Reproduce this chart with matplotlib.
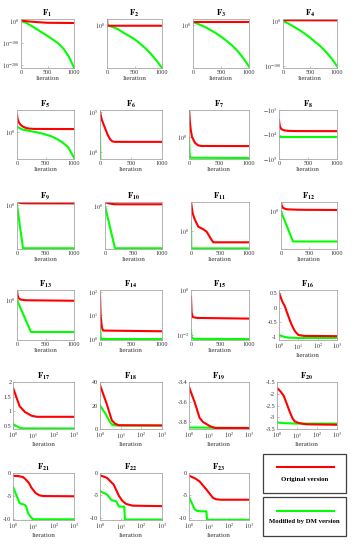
import matplotlib
matplotlib.use('Agg')
import matplotlib.pyplot as plt
from matplotlib.patches import Rectangle
from matplotlib.lines import Line2D

plt.rcParams['font.family'] = ['Liberation Serif', 'DejaVu Serif']
plt.rcParams['mathtext.fontset'] = 'stix'

W, H = 359, 550
RED = '#ff0000'
GREEN = '#00ff00'
FRAME = '#a6a6a6'

# ---------------- data ----------------
# F1..F4: log10 of best fitness vs iteration
F1_it = [0, 100, 200, 300, 400, 500, 600, 700, 800, 900, 1000]
F1_orig_it = [0, 20, 100, 300, 500, 1000]
F1_orig = [1e4, 1e1, 1e-2, 1e-6, 1e-9, 1e-10]
F1_dm = [1e0, 1e-10, 1e-23, 1e-38, 1e-53, 1e-68, 1e-84, 1e-101, 1e-125, 1e-160, 1e-210]

F2_it = [0, 100, 200, 300, 400, 500, 600, 700, 800, 900, 1000]
F2_orig_it = [0, 8, 1000]
F2_orig = [1e25, 1e-2, 1e-2]
F2_dm = [1e0, 1e-6, 1e-13, 1e-25, 1e-35, 1e-46, 1e-60, 1e-76, 1e-94, 1e-116, 1e-140]

F3_it = [0, 100, 200, 300, 400, 500, 600, 700, 800, 900, 1000]
F3_orig_it = [0, 1000]
F3_orig = [1e10, 1e10]
F3_dm = [1e10, 1e2, 1e-6, 1e-17, 1e-28, 1e-41, 1e-56, 1e-72, 1e-92, 1e-116, 1e-145]

F4_it = [0, 100, 200, 300, 400, 500, 600, 700, 800, 900, 1000]
F4_orig_it = [0, 1000]
F4_orig = [10**1.2, 10**1.0]
F4_dm = [1e0, 1e-6, 1e-13, 1e-20, 1e-28, 1e-37, 1e-47, 1e-57, 1e-69, 1e-83, 1e-100]

F5_orig_it = [0, 10, 30, 60, 100, 150, 200, 300, 1000]
F5_orig = [1e4, 1e3, 10**2.3, 10**1.7, 10**1.3, 10**1.0, 10**0.85, 10**0.75, 10**0.72]
F5_dm_it = [0, 50, 100, 200, 300, 400, 500, 600, 700, 800, 900, 1000]
F5_dm = [10**1.3, 10**0.9, 10**0.6, 10**0.35, 10**0.1, 10**-0.15, 10**-0.5, 10**-0.9,
         10**-1.5, 10**-2.3, 10**-3.4, 10**-5.7]

F6_orig_it = [0, 30, 80, 120, 160, 200, 250, 1000]
F6_orig = [1e5, 1e4, 1e3, 10**2.2, 10**1.6, 10**1.3, 10**1.25, 10**1.25]
F6_dm_it = [0, 8]
F6_dm = [10**2.4, 1e-3]

F7_orig_it = [0, 15, 30, 50, 100, 150, 200, 1000]
F7_orig = [1e3, 10**1.5, 10**0.7, 1e0, 10**-0.6, 10**-0.85, 10**-0.92, 10**-0.93]
F7_dm_it = [0, 5, 12, 30, 1000]
F7_dm = [10**-0.05, 10**-0.8, 10**-1.9, 10**-2.12, 10**-2.15]

F8_orig_it = [0, 10, 20, 40, 80, 150, 300, 1000]
F8_orig = [-2600, -4000, -5000, -6000, -6700, -7100, -7250, -7300]
F8_dm_it = [0, 1000]
F8_dm = [-12569.5, -12569.5]

F9_orig_it = [0, 30, 80, 200, 1000]
F9_orig = [1e2, 10**1.6, 10**1.2, 10**1.1, 10**1.05]
F9_dm_it = [0, 105, 1000]
F9_dm = [1e0, 10**-29.5, 10**-29.5]

F10_orig_it = [0, 50, 100, 175, 300, 1000]
F10_orig = [10**2.8, 1e2, 10**1.6, 10**1.25, 10**1.2, 10**1.2]
F10_dm_it = [0, 175, 1000]
F10_dm = [1e0, 10**-29.5, 10**-29.5]

F11_orig_it = [0, 28, 69, 126, 213, 270, 356, 385, 1000]
F11_orig = [1e5, 10**3.08, 10**1.94, 10**0.8, 10**0.35, 10**-0.06, 10**-1.47, 10**-1.86, 10**-1.86]
F11_dm_it = [0, 5, 1000]
F11_dm = [10**1.5, 10**-2.9, 10**-2.9]

F12_orig_it = [0, 10, 40, 100, 300, 1000]
F12_orig = [1e2, 10**1.3, 10**0.7, 10**0.45, 10**0.35, 10**0.3]
F12_dm_it = [0, 214, 1000]
F12_dm = [1e0, 10**-6.4, 10**-6.4]

F13_orig_it = [0, 10, 25, 60, 150, 1000]
F13_orig = [1e2, 1e1, 10**0.4, 10**0.1, 10**-0.05, 10**-0.15]
F13_dm_it = [0, 245, 1000]
F13_dm = [1e0, 10**-6.4, 10**-6.4]

F14_orig_it = [0, 10, 30, 50, 1000]
F14_orig = [10**1.9, 10**1.0, 10**0.5, 10**0.36, 10**0.33]
F14_dm_it = [0, 10, 30, 1000]
F14_dm = [10**0.6, 10**0.1, 1.0, 0.998]

F15_orig_it = [0, 10, 30, 100, 1000]
F15_orig = [10**-0.3, 10**-1.0, 10**-1.2, 10**-1.24, 10**-1.27]
F15_dm_it = [0, 10, 50, 1000]
F15_dm = [10**-1.78, 10**-2.1, 10**-2.17, 10**-2.18]

F16_orig_it = [1, 1.5, 2, 2.5, 3, 4, 5.5, 7, 10, 20, 1000]
F16_orig = [0.5, 0.2, 0.05, -0.14, -0.28, -0.5, -0.7, -0.82, -0.93, -0.96, -0.97]
F16_dm_it = [1, 2, 3, 10, 1000]
F16_dm = [-0.93, -1.0, -1.02, -1.03, -1.03]

F17_orig_it = [1, 2.1, 3.8, 8, 15, 1000]
F17_orig = [1.8, 1.17, 0.97, 0.84, 0.8, 0.8]
F17_dm_it = [1, 2, 3, 1000]
F17_dm = [0.55, 0.43, 0.40, 0.398]

F18_orig_it = [1, 2.1, 3.7, 5.3, 8, 1000]
F18_orig = [37.4, 21.5, 7.5, 4.6, 3.2, 3.0]
F18_dm_it = [1, 2, 3, 4, 6, 1000]
F18_dm = [20, 12, 6, 3.5, 3, 3]

F19_orig_it = [1, 1.9, 3.4, 5, 10.8, 20, 1000]
F19_orig = [-3.45, -3.6, -3.76, -3.8, -3.84, -3.86, -3.86]
F19_dm_it = [1, 1000]
F19_dm = [-3.855, -3.86]

F20_orig_it = [1, 1.5, 2.2, 3, 4.3, 6, 7.6, 10, 17, 30, 1000]
F20_orig = [-1.75, -1.9, -2.1, -2.4, -2.76, -3.05, -3.17, -3.22, -3.27, -3.3, -3.32]
F20_dm_it = [1, 2, 10, 1000]
F20_dm = [-3.22, -3.25, -3.27, -3.27]

F21_orig_it = [1, 2, 3.1, 4, 6.1, 8, 13, 20, 30, 1000]
F21_orig = [-0.6, -0.7, -0.9, -1.3, -2.2, -3.2, -4.4, -4.9, -5.05, -5.1]
F21_dm_it = [1, 2.1, 3.8, 4.5, 5.5, 7, 9.7, 1000]
F21_dm = [-3, -6.6, -7, -7.4, -8.8, -9.5, -10.15, -10.15]

F22_orig_it = [1, 2.2, 4.6, 8.2, 12, 18, 38, 1000]
F22_orig = [-0.5, -1.1, -2.6, -5.1, -6.2, -6.9, -7.3, -7.4]
F22_dm_it = [1, 2.2, 3.5, 4.6, 6, 8.2, 15, 16, 1000]
F22_dm = [-4.06, -4.8, -6.0, -6.2, -6.3, -7.5, -7.5, -10.4, -10.4]

F23_orig_it = [1, 2, 3.4, 5, 7.4, 11, 16, 23, 40, 1000]
F23_orig = [-0.6, -1.2, -1.9, -2.8, -3.7, -4.7, -5.6, -5.9, -6.0, -6.0]
F23_dm_it = [1, 1.9, 2.5, 4, 7.4, 8, 1000]
F23_dm = [-5.4, -8.1, -8.5, -8.6, -8.6, -10.5, -10.5]

legend_labels = ['Original version', 'Modified by DM version']
lin_xticks = [0, 500, 1000]
lin_xticklabels = ['0', '500', '1000']
log_xticks = [1, 10, 100, 1000]
log_xticklabels = [r'$10^{0}$', r'$10^{1}$', r'$10^{2}$', r'$10^{3}$']

# ---------------- layout ----------------
fig = plt.figure(figsize=(W / 100, H / 100), dpi=100)


def add_ax(l, t, r, b):
    return fig.add_axes([l / W, 1 - b / H, (r - l) / W, (b - t) / H])


panels = [
    # name, box(l,t,r,b), xmode, yscale, ylim, yticks, yticklabels, data
    ('1', (21, 19, 74, 68), 'lin', 'log', (1e-212, 1e8), [1e0, 1e-100, 1e-200],
     [r'$10^{0}$', r'$10^{-100}$', r'$10^{-200}$'], (F1_orig_it, F1_orig, F1_it, F1_dm)),
    ('2', (107, 19, 162, 68), 'lin', 'log', (1e-140, 1e20), [1e0], [r'$10^{0}$'],
     (F2_orig_it, F2_orig, F2_it, F2_dm)),
    ('3', (193, 19, 249, 68), 'lin', 'log', (1e-150, 1e20), [1e0], [r'$10^{0}$'],
     (F3_orig_it, F3_orig, F3_it, F3_dm)),
    ('4', (283, 19, 337, 68), 'lin', 'log', (1e-104, 1e4), [1e0, 1e-100],
     [r'$10^{0}$', r'$10^{-100}$'], (F4_orig_it, F4_orig, F4_it, F4_dm)),
    ('5', (17, 110, 74, 159), 'lin', 'log', (1e-6, 1e5), [1e0], [r'$10^{0}$'],
     (F5_orig_it, F5_orig, F5_dm_it, F5_dm)),
    ('6', (100, 110, 162, 159), 'lin', 'log', (10**-0.9, 10**5.25), [1e0, 1e5],
     [r'$10^{0}$', r'$10^{5}$'], (F6_orig_it, F6_orig, F6_dm_it, F6_dm)),
    ('7', (189, 110, 249, 159), 'lin', 'log', (10**-2.25, 10**2.75), [1e0], [r'$10^{0}$'],
     (F7_orig_it, F7_orig, F7_dm_it, F7_dm)),
    ('8', (279, 110, 337, 159), 'lin', 'neglog', (1e5, 1e3), [1e3, 1e4, 1e5],
     [r'$-10^{3}$', r'$-10^{4}$', r'$-10^{5}$'], (F8_orig_it, F8_orig, F8_dm_it, F8_dm)),
    ('9', (17, 202, 74, 249), 'lin', 'log', (1e-30, 1e2), [1e0], [r'$10^{0}$'],
     (F9_orig_it, F9_orig, F9_dm_it, F9_dm)),
    ('10', (105, 202, 162, 249), 'lin', 'log', (1e-30, 10**2.8), [1e0], [r'$10^{0}$'],
     (F10_orig_it, F10_orig, F10_dm_it, F10_dm)),
    ('11', (191, 202, 249, 249), 'lin', 'log', (1e-3, 1e5), [1e0], [r'$10^{0}$'],
     (F11_orig_it, F11_orig, F11_dm_it, F11_dm)),
    ('12', (281, 202, 337, 249), 'lin', 'log', (1e-8, 1e2), [1e0], [r'$10^{0}$'],
     (F12_orig_it, F12_orig, F12_dm_it, F12_dm)),
    ('13', (17, 290, 74, 340), 'lin', 'log', (1e-8, 1e2), [1e0], [r'$10^{0}$'],
     (F13_orig_it, F13_orig, F13_dm_it, F13_dm)),
    ('14', (100, 290, 162, 340), 'lin', 'log', (10**-0.04, 10**2.08), [1e0, 1e1, 1e2],
     [r'$10^{0}$', r'$10^{1}$', r'$10^{2}$'], (F14_orig_it, F14_orig, F14_dm_it, F14_dm)),
    ('15', (191, 290, 249, 340), 'lin', 'log', (10**-2.22, 1e0), [1e-2, 1e0],
     [r'$10^{-2}$', r'$10^{0}$'], (F15_orig_it, F15_orig, F15_dm_it, F15_dm)),
    ('16', (279, 290, 337, 340), 'log', 'linear', (-1.1, 0.6), [-1, -0.5, 0, 0.5],
     ['-1', '-0.5', '0', '0.5'], (F16_orig_it, F16_orig, F16_dm_it, F16_dm)),
    ('17', (13, 382, 74, 429), 'log', 'linear', (0.38, 2.0), [0.5, 1, 1.5, 2],
     ['0.5', '1', '1.5', '2'], (F17_orig_it, F17_orig, F17_dm_it, F17_dm)),
    ('18', (100, 382, 162, 429), 'log', 'linear', (0, 40), [0, 20, 40],
     ['0', '20', '40'], (F18_orig_it, F18_orig, F18_dm_it, F18_dm)),
    ('19', (189, 382, 249, 429), 'log', 'linear', (-3.87, -3.4), [-3.8, -3.6, -3.4],
     ['-3.8', '-3.6', '-3.4'], (F19_orig_it, F19_orig, F19_dm_it, F19_dm)),
    ('20', (277, 382, 337, 429), 'log', 'linear', (-3.5, -1.5), [-3.5, -3, -2.5, -2, -1.5],
     ['-3.5', '-3', '-2.5', '-2', '-1.5'], (F20_orig_it, F20_orig, F20_dm_it, F20_dm)),
    ('21', (13, 473, 74, 520), 'log', 'linear', (-10.3, 0), [-10, -5, 0],
     ['-10', '-5', '0'], (F21_orig_it, F21_orig, F21_dm_it, F21_dm)),
    ('22', (100, 473, 162, 520), 'log', 'linear', (-10.5, 0), [-10, -5, 0],
     ['-10', '-5', '0'], (F22_orig_it, F22_orig, F22_dm_it, F22_dm)),
    ('23', (189, 473, 249, 520), 'log', 'linear', (-10.55, 0), [-10, -5, 0],
     ['-10', '-5', '0'], (F23_orig_it, F23_orig, F23_dm_it, F23_dm)),
]

TICK_FS = 4.4
for name, box, xmode, ymode, ylim, yt, ytl, (xo, yo, xd, yd) in panels:
    ax = add_ax(*box)
    if ymode == 'neglog':
        yo_p = [-v for v in yo]
        yd_p = [-v for v in yd]
        ax.set_yscale('log')
    else:
        yo_p, yd_p = yo, yd
        if ymode == 'log':
            ax.set_yscale('log')
    if xmode == 'log':
        ax.set_xscale('log')
    ax.plot(xd, yd_p, color=GREEN, lw=1.5, solid_joinstyle='round')
    ax.plot(xo, yo_p, color=RED, lw=1.5, solid_joinstyle='round')
    if xmode == 'log':
        ax.set_xlim(1, 1000)
        ax.set_xticks(log_xticks)
        ax.set_xticklabels(log_xticklabels)
    else:
        ax.set_xlim(0, 1000)
        ax.set_xticks(lin_xticks)
        ax.set_xticklabels(lin_xticklabels)
    ax.set_ylim(*ylim)
    ax.set_yticks(yt)
    ax.set_yticklabels(ytl)
    ax.minorticks_off()
    ax.tick_params(direction='in', length=1.5, width=0.5, color=FRAME,
                   labelsize=TICK_FS, pad=1.2, labelcolor='#333333')
    for s in ax.spines.values():
        s.set_color(FRAME)
        s.set_linewidth(0.6)
    ax.set_xlabel('Iteration', fontsize=5, labelpad=0.8, color='#333333')
    ax.set_title(r'$\mathbf{F_{' + name + '}}$', fontsize=6.2, pad=2.2)

# ---------------- legend boxes ----------------
for (t, b, col, ly, ty, label) in [(454, 493, RED, 467, 480, legend_labels[0]),
                                    (497, 536, GREEN, 511, 522, legend_labels[1])]:
    fig.patches.append(Rectangle((263 / W, 1 - b / H), (346 - 263) / W, (b - t) / H,
                                 transform=fig.transFigure, fill=False,
                                 edgecolor='#404040', lw=0.9))
    fig.lines.append(Line2D([277 / W, 334 / W], [1 - ly / H, 1 - ly / H],
                            transform=fig.transFigure, color=col, lw=1.5))
    fig.text(304.5 / W, 1 - ty / H, label, ha='center', va='center',
             fontsize=4.9, fontweight='bold')

fig.savefig('out.png', dpi=100)
